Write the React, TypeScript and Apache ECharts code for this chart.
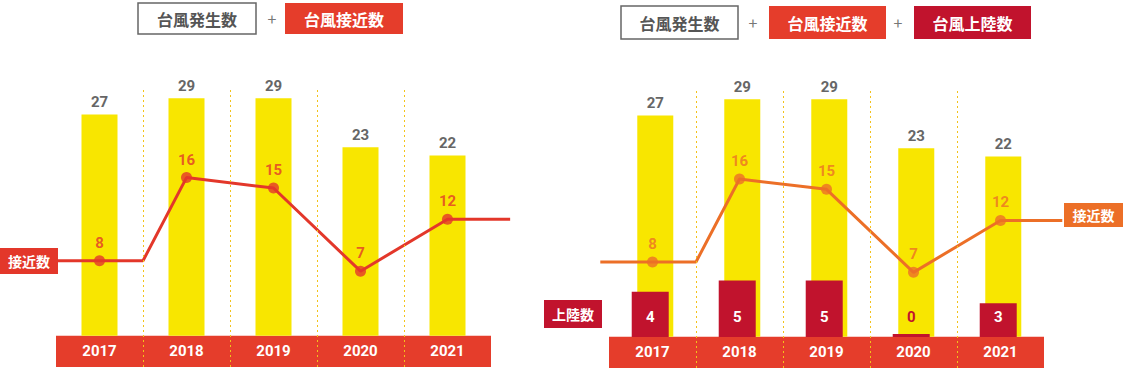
import React, { useEffect, useRef } from "react";
import * as echarts from "echarts";

const YEARS = ["2017", "2018", "2019", "2020", "2021"];
const TYPHOON_FORMED = [27, 29, 29, 23, 22];
const TYPHOON_APPROACHED = [8, 16, 15, 7, 12];
const TYPHOON_LANDED = [4, 5, 5, 0, 3];

const YELLOW = "#f8e600";
const BAND_RED = "#e53d2b";
const LINE_RED = "#e3372a";
const ORANGE = "#ec6f27";
const DARK_RED = "#c1132d";
const GRAY_TEXT = "#666666";
const SEP = "#f2c21a";
const NUM_FONT = 'Roboto, "Noto Sans CJK JP", sans-serif';
const JP_FONT = '"Noto Sans CJK JP", sans-serif';

// layout of the two panels
const CAT_W = 87;
const PANELS = [
  { catLeft: 56, top: 90, lineLeft: 0, lineWidth: 560 },
  { catLeft: 609, top: 91, lineLeft: 560, lineWidth: 563 },
];
const GRID_H = 277;

function linePoints(values: number[], lead: number, tail: number) {
  const pts: number[][] = [[lead, values[0]]];
  values.forEach((v, i) => {
    pts.push([i, v]);
    if (i === 0) pts.push([0.5, v]);
  });
  pts.push([tail, values[values.length - 1]]);
  return pts;
}

function boxText(x: number, y: number, w: number, h: number, text: string, fill: string, textColor: string, stroke?: string, fontSize = 16) {
  return {
    type: "group",
    children: [
      {
        type: "rect",
        shape: { x, y, width: w, height: h },
        style: stroke ? { fill: "#fff", stroke, lineWidth: 1.5 } : { fill },
      },
      {
        type: "text",
        x: x + w / 2,
        y: y + h / 2,
        style: { text, fill: textColor, font: `bold ${fontSize}px ${JP_FONT}`, align: "center", verticalAlign: "middle" },
      },
    ],
  };
}

function plusText(x: number, y: number) {
  return {
    type: "text",
    x,
    y,
    style: { text: "+", fill: "#777777", font: `16px ${JP_FONT}`, align: "center", verticalAlign: "middle" },
  };
}

function categoryAxis(gridIndex: number) {
  return {
    type: "category",
    gridIndex,
    data: YEARS,
    z: 10,
    axisLine: { show: false },
    axisTick: { show: false },
    axisLabel: {
      inside: true,
      margin: 16,
      verticalAlign: "middle",
      color: "#fff",
      fontWeight: "bold",
      fontSize: 15,
      fontFamily: NUM_FONT,
    },
    splitLine: {
      show: true,
      showMinLine: false,
      showMaxLine: false,
      lineStyle: { color: SEP, width: 1, type: [2, 3] },
    },
  };
}

function lineXAxis(gridIndex: number, p: { catLeft: number; lineLeft: number; lineWidth: number }) {
  const min = -0.5 - (p.catLeft - p.lineLeft) / CAT_W;
  const max = min + p.lineWidth / CAT_W;
  return { type: "value", gridIndex, min, max, show: false, splitLine: { show: false } };
}

function hiddenY(gridIndex: number, min: number, max: number) {
  return { type: "value", gridIndex, min, max, show: false, splitLine: { show: false } };
}

function formedSeries(xAxisIndex: number, yAxisIndex: number, extra: any = {}) {
  return {
    type: "bar",
    xAxisIndex,
    yAxisIndex,
    data: TYPHOON_FORMED,
    barWidth: 36,
    z: 2,
    itemStyle: { color: YELLOW },
    label: {
      show: true,
      position: "top",
      distance: 5,
      color: GRAY_TEXT,
      fontWeight: "bold",
      fontSize: 15,
      fontFamily: NUM_FONT,
    },
    markArea: {
      silent: true,
      itemStyle: { color: BAND_RED, opacity: 1 },
      data: [[{ yAxis: -10 }, { yAxis: 0 }]],
    },
    ...extra,
  };
}

function approachSeries(xAxisIndex: number, yAxisIndex: number, color: string, lead: number, tail: number) {
  return [
    {
      type: "line",
      xAxisIndex,
      yAxisIndex,
      data: linePoints(TYPHOON_APPROACHED, lead, tail),
      showSymbol: false,
      clip: false,
      z: 4,
      lineStyle: { color, width: 3 },
      silent: true,
    },
    {
      type: "scatter",
      xAxisIndex,
      yAxisIndex,
      data: TYPHOON_APPROACHED.map((v, i) => [i, v]),
      symbolSize: 11,
      z: 5,
      itemStyle: { color },
      label: {
        show: true,
        position: "top",
        distance: 5,
        color,
        fontWeight: "bold",
        fontSize: 15,
        fontFamily: NUM_FONT,
        formatter: (p: any) => String(p.value[1]),
      },
    },
  ];
}

export default function App() {
  const ref = useRef<HTMLDivElement>(null);
  useEffect(() => {
    if (!ref.current) return;
    const chart = echarts.init(ref.current, undefined, { renderer: "svg" });
    const option: any = {
      animation: false,
      grid: [
        { left: PANELS[0].catLeft, width: CAT_W * 5, top: PANELS[0].top, height: GRID_H },
        { left: PANELS[1].catLeft, width: CAT_W * 5, top: PANELS[1].top, height: GRID_H },
        { left: PANELS[0].lineLeft, width: PANELS[0].lineWidth, top: PANELS[0].top, height: GRID_H },
        { left: PANELS[1].lineLeft, width: PANELS[1].lineWidth, top: PANELS[1].top, height: GRID_H },
      ],
      xAxis: [categoryAxis(0), categoryAxis(1), lineXAxis(2, PANELS[0]), lineXAxis(3, PANELS[1])],
      yAxis: [
        hiddenY(0, -3.8, 30),
        hiddenY(1, -3.8, 30),
        hiddenY(1, -2.74, 21.77),
        hiddenY(2, -2.21, 24.42),
        hiddenY(3, -2.22, 24.48),
      ],
      series: [
        formedSeries(0, 0),
        ...approachSeries(2, 3, LINE_RED, -0.48, 4.72),
        {
          type: "bar",
          xAxisIndex: 1,
          yAxisIndex: 2,
          data: TYPHOON_LANDED.map((v) => ({
            value: v,
            label: { color: v === 0 ? DARK_RED : "#fff" },
          })),
          barWidth: 37,
          barGap: "-85%",
          barMinHeight: 3,
          z: 3,
          itemStyle: { color: DARK_RED },
          label: {
            show: true,
            position: "insideBottom",
            distance: 13,
            fontWeight: "bold",
            fontSize: 15,
            fontFamily: NUM_FONT,
          },
        },
        formedSeries(1, 1, { barGap: "-85%" }),
        ...approachSeries(3, 4, ORANGE, -0.6, 4.71),
      ],
      graphic: [
        boxText(138, 3, 118, 31, "台風発生数", "#fff", "#555", "#666"),
        plusText(272, 18),
        boxText(285, 3, 118, 31, "台風接近数", BAND_RED, "#fff"),
        boxText(621, 6, 117, 33, "台風発生数", "#fff", "#555", "#666"),
        plusText(753, 22),
        boxText(769, 6, 117, 33, "台風接近数", BAND_RED, "#fff"),
        plusText(898, 22),
        boxText(914, 6, 117, 33, "台風上陸数", DARK_RED, "#fff"),
        boxText(0, 248, 58, 26, "接近数", LINE_RED, "#fff", undefined, 14),
        boxText(544, 300, 58, 28, "上陸数", DARK_RED, "#fff", undefined, 14),
        boxText(1064, 203, 59, 24, "接近数", ORANGE, "#fff", undefined, 14),
      ],
    };
    chart.setOption(option);
    return () => chart.dispose();
  }, []);
  return <div ref={ref} style={{ position: "absolute", left: 0, top: 0, width: 1123, height: 369 }} />;
}
